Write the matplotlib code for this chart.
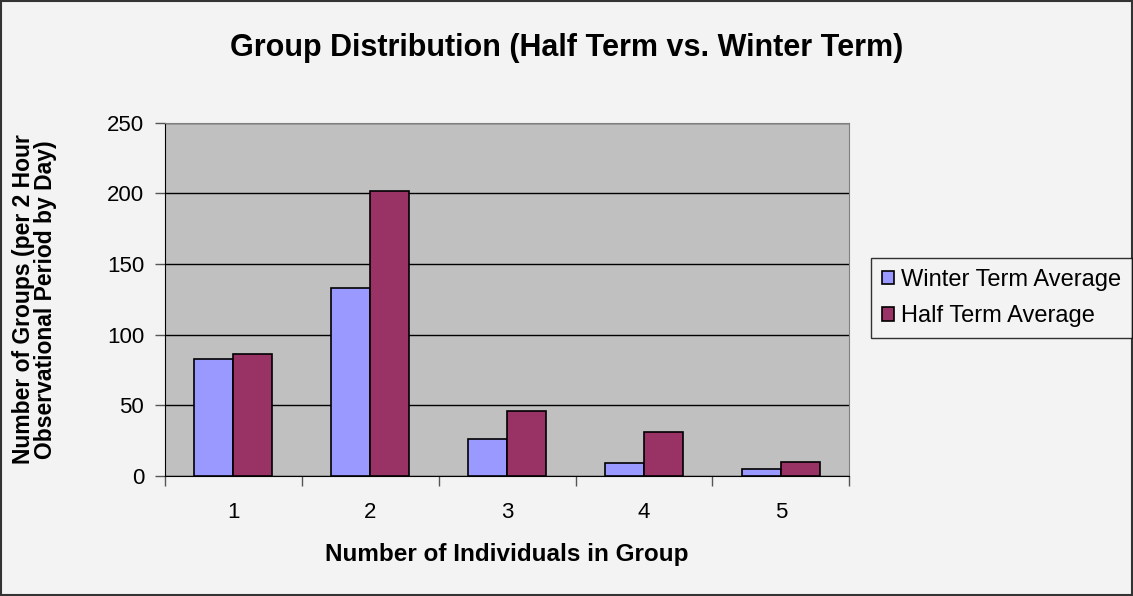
import numpy as np
import matplotlib.pyplot as plt

plt.rcParams['font.family'] = ['Liberation Sans', 'DejaVu Sans']

groups = ['1', '2', '3', '4', '5']
winter = [83, 133, 26, 9, 5]
half = [86, 202, 46, 31, 10]

fig = plt.figure(figsize=(11.33, 5.96), dpi=100, facecolor='#f3f3f3')
fig.patches.append(plt.Rectangle((0.001, 0.001), 0.998, 0.997, transform=fig.transFigure,
                                 fill=False, edgecolor='#333333', linewidth=1.5))
ax = fig.add_axes([0.1456, 0.2013, 0.604, 0.5928])
ax.set_facecolor('#c0c0c0')

x = np.arange(len(groups))
w = 0.285
ax.bar(x - w / 2, winter, w, color='#9999ff', edgecolor='black', linewidth=1.2,
       label='Winter Term Average', zorder=3)
ax.bar(x + w / 2, half, w, color='#993366', edgecolor='black', linewidth=1.2,
       label='Half Term Average', zorder=3)

ax.set_xlim(-0.5, 4.5)
ax.set_ylim(0, 250)
ax.set_yticks(range(0, 251, 50))
ax.set_xticks(x)
ax.set_xticklabels(groups)
ax.set_xticks(np.arange(-0.5, 5, 1), minor=True)
ax.tick_params(axis='x', which='major', length=0, labelsize=16, pad=19)
ax.tick_params(axis='x', which='minor', length=7, width=1, direction='out', color='#555555')
ax.tick_params(axis='y', length=7, width=1, labelsize=16, pad=8, color='#555555')
ax.yaxis.grid(True, color='black', linewidth=1, zorder=0)
for s in ['top', 'right']:
    ax.spines[s].set_color('#808080')
ax.spines['left'].set_color('black')
ax.spines['bottom'].set_color('black')

ax.set_xlabel('Number of Individuals in Group', fontsize=17.5, fontweight='bold', labelpad=14)
ax.set_ylabel('Number of Groups (per 2 Hour\nObservational Period by Day)', fontsize=16.5,
              fontweight='bold', labelpad=36, linespacing=0.95)
fig.text(0.5, 0.919, 'Group Distribution (Half Term vs. Winter Term)', ha='center', va='center',
         fontsize=22, fontweight='bold')

leg = fig.legend(loc='center left', bbox_to_anchor=(0.769, 0.5), fontsize=17, frameon=True,
                 fancybox=False, edgecolor='black', facecolor='#f3f3f3', handlelength=0.52,
                 handleheight=0.52, handletextpad=0.3, borderpad=0.45, labelspacing=0.6,
                 borderaxespad=0)
leg.get_frame().set_linewidth(1)

fig.savefig('out.png', dpi=100, facecolor=fig.get_facecolor())
